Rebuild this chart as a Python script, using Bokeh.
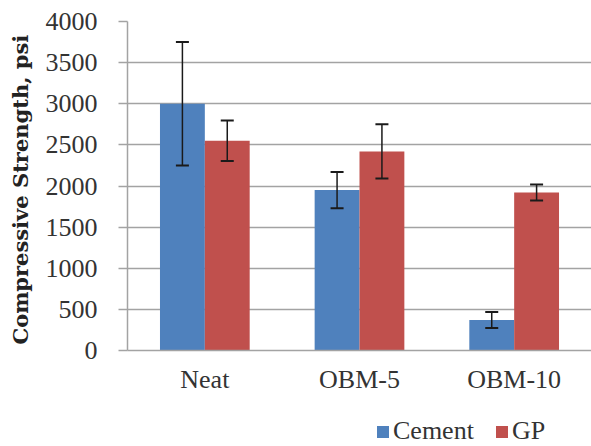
from bokeh.plotting import figure
from bokeh.layouts import column
from bokeh.models import ColumnDataSource, FactorRange, Range1d, Whisker, Legend, LegendItem, SingleIntervalTicker
from bokeh.transform import dodge
from bokeh.embed import file_html
from bokeh.resources import INLINE

categories = ["Neat", "OBM-5", "OBM-10"]
cement = [3000, 1950, 370]
cement_err = [750, 220, 97]
gp = [2550, 2420, 1920]
gp_err = [245, 330, 97]
series = ["Cement", "GP"]

BLUE = "#4F81BD"
RED = "#C0504D"
GRID = "#a3a3a3"
FONT = "Liberation Serif"

src = ColumnDataSource(dict(
    cat=categories,
    cement=cement,
    cement_lo=[v - e for v, e in zip(cement, cement_err)],
    cement_hi=[v + e for v, e in zip(cement, cement_err)],
    gp=gp,
    gp_lo=[v - e for v, e in zip(gp, gp_err)],
    gp_hi=[v + e for v, e in zip(gp, gp_err)],
))

p = figure(x_range=FactorRange(*categories, range_padding=0), y_range=(0, 4000),
           width=591, height=400, output_backend="svg", toolbar_location=None,
           min_border_left=127, min_border_right=0, min_border_top=21, min_border_bottom=50)
p.outline_line_color = None

bw = 0.29
r1 = p.vbar(x=dodge("cat", -bw / 2, range=p.x_range), top="cement", width=bw, source=src,
            fill_color=BLUE, line_color=None)
r2 = p.vbar(x=dodge("cat", bw / 2, range=p.x_range), top="gp", width=bw, source=src,
            fill_color=RED, line_color=None)

for off, lo, hi in [(-bw / 2, "cement_lo", "cement_hi"), (bw / 2, "gp_lo", "gp_hi")]:
    w = Whisker(base=dodge("cat", off, range=p.x_range), lower=lo, upper=hi, source=src,
                line_color="#1a1a1a", line_width=1.5, level="overlay")
    w.upper_head.size = 13
    w.lower_head.size = 13
    w.upper_head.line_color = "#1a1a1a"
    w.lower_head.line_color = "#1a1a1a"
    w.upper_head.line_width = 2
    w.lower_head.line_width = 2
    p.add_layout(w)

p.yaxis.ticker = SingleIntervalTicker(interval=500)
p.ygrid.grid_line_color = GRID
p.ygrid.grid_line_width = 1.5
p.xgrid.grid_line_color = None

for ax in (p.xaxis, p.yaxis):
    ax.axis_line_color = GRID
    ax.axis_line_width = 1.5
    ax.major_label_text_font = FONT
    ax.major_label_text_font_size = "26px"
    ax.major_label_text_color = "#333333"
    ax.minor_tick_line_color = None

p.yaxis.major_tick_out = 9
p.yaxis.major_tick_in = 0
p.yaxis.major_tick_line_color = GRID
p.yaxis.major_tick_line_width = 1.5
p.yaxis.major_label_standoff = 21
p.yaxis.axis_label = "Compressive  Strength, psi"
p.yaxis.axis_label_text_font = "DejaVu Serif"
p.yaxis.axis_label_text_font_style = "bold"
p.yaxis.axis_label_text_font_size = "21px"
p.yaxis.axis_label_text_color = "#222222"
p.yaxis.axis_label_standoff = 10

p.xaxis.major_tick_out = 0
p.xaxis.major_tick_in = 0
p.xaxis.major_label_standoff = 14

# legend strip below the chart (same series, drawn outside its visible range)
p2 = figure(x_range=FactorRange(*categories), y_range=Range1d(5000, 6000),
            width=591, height=46, output_backend="svg", toolbar_location=None,
            x_axis_type=None, y_axis_type=None, min_border=0)
p2.outline_line_color = None
p2.xgrid.grid_line_color = None
p2.ygrid.grid_line_color = None
l1 = p2.vbar(x="cat", top="cement", width=bw, source=src, fill_color=BLUE, line_color=None)
l2 = p2.vbar(x="cat", top="gp", width=bw, source=src, fill_color=RED, line_color=None)
legend = Legend(items=[LegendItem(label=series[0], renderers=[l1]),
                       LegendItem(label=series[1], renderers=[l2])],
                orientation="horizontal", location=(248, 0),
                label_text_font=FONT, label_text_font_size="26px", label_text_color="#333333",
                glyph_width=15, glyph_height=15, label_standoff=3, spacing=20,
                padding=0, margin=0, border_line_color=None, background_fill_alpha=0)
p2.add_layout(legend, "center")

layout = column(p, p2, spacing=0)
open("out.html", "w").write(file_html(layout, INLINE))
